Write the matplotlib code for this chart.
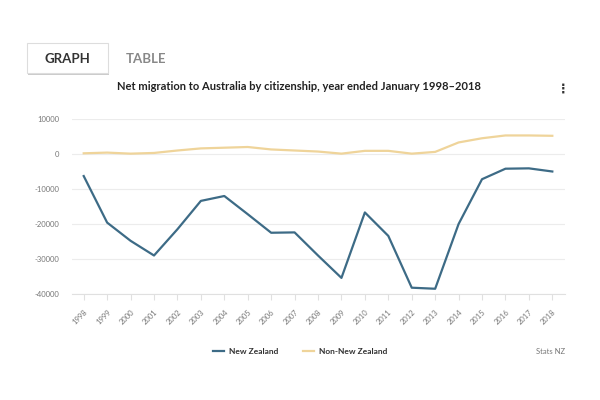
import matplotlib
matplotlib.use("Agg")
import matplotlib.pyplot as plt
from matplotlib.patches import FancyBboxPatch, Rectangle

years = list(range(1998, 2019))
new_zealand = [-6300, -19600, -24800, -29000, -21500, -13400, -12000, -17200, -22500, -22400,
               -29000, -35400, -16700, -23400, -38200, -38500, -20000, -7200, -4200, -4100, -5000]
non_new_zealand = [200, 400, 100, 300, 1000, 1600, 1800, 2000, 1300, 1000,
                   700, 100, 900, 900, 100, 600, 3300, 4500, 5300, 5300, 5200]
y_ticks = [10000, 0, -10000, -20000, -30000, -40000]
title = "Net migration to Australia by citizenship, year ended January 1998\u20132018"

plt.rcParams['font.family'] = ['Lato', 'DejaVu Sans']

fig = plt.figure(figsize=(6, 4), dpi=100)
fig.patch.set_facecolor('white')

ax = fig.add_axes([0.12, 0.265, 0.822, 0.4375])
ax.plot(years, new_zealand, color='#3d6b86', lw=1.6, label='New Zealand')
ax.plot(years, non_new_zealand, color='#efd49a', lw=1.6, label='Non-New Zealand')

ax.set_ylim(-40000, 10000)
ax.set_xlim(1997.5, 2018.55)
ax.set_yticks(y_ticks)
ax.set_yticklabels([str(v) for v in y_ticks], fontsize=5.5, color='#777777')
ax.set_xticks(years)
ax.set_xticklabels([str(y) for y in years], fontsize=5.5, color='#777777', rotation=45, ha='right',
                   rotation_mode='anchor')
ax.tick_params(axis='y', length=0, pad=9)
ax.tick_params(axis='x', length=4, color='#e0e0e0', pad=6)
ax.grid(axis='y', color='#ececec', lw=0.8)
ax.set_axisbelow(True)
for s in ['top', 'right', 'left']:
    ax.spines[s].set_visible(False)
ax.spines['bottom'].set_color('#e0e0e0')

# Tabs
tab = FancyBboxPatch((27/600, 1-73/400), 81/600, 30/400, boxstyle='square,pad=0',
                     transform=fig.transFigure, facecolor='white', edgecolor='#dddddd', lw=0.8)
shadow = Rectangle((28/600, 1-75/400), 81/600, 2/400, transform=fig.transFigure,
                   facecolor='#cccccc', edgecolor='none')
fig.patches.extend([shadow, tab])
fig.text(67/600, 1-59/400, 'GRAPH', fontsize=9.5, fontweight='bold', color='#333333', ha='center', va='center')
fig.text(146/600, 1-59/400, 'TABLE', fontsize=9.5, fontweight='bold', color='#888888', ha='center', va='center')

fig.text(299/600, 1-87/400, title, fontsize=8, fontweight='bold', color='#222222', ha='center', va='center')
fig.text(563/600, 1-89/400, '\u22ee', fontsize=9, fontweight='bold', color='#333333', ha='center', va='center',
         family='DejaVu Sans')

leg = fig.legend(loc='center', bbox_to_anchor=(300/600, 1-351/400), ncol=2, frameon=False,
                 fontsize=6, handlelength=1.3, columnspacing=3, handletextpad=0.6)
for t in leg.get_texts():
    t.set_fontweight('bold')
    t.set_color('#333333')
fig.text(565/600, 1-351/400, 'Stats NZ', fontsize=5.5, color='#777777', ha='right', va='center')

fig.savefig('out.png', dpi=100, facecolor='white')
